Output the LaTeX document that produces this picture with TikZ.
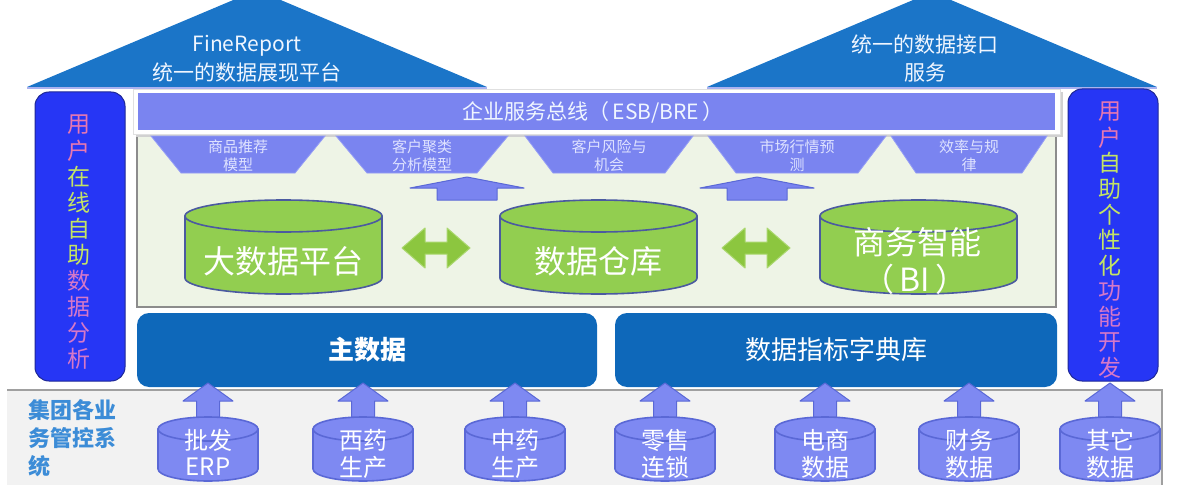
\documentclass[tikz,border=0pt]{standalone}
\usepackage{fontspec}
\setmainfont{Noto Sans CJK SC}
\definecolor{roofblue}{RGB}{27,117,200}
\definecolor{lavline}{RGB}{170,178,240}
\definecolor{esbpurple}{RGB}{122,132,240}
\definecolor{trapfill}{RGB}{122,132,240}
\definecolor{trapedge}{RGB}{150,158,245}
\definecolor{traptxt}{RGB}{222,226,255}
\definecolor{sideblue}{RGB}{38,54,245}
\definecolor{sideedge}{RGB}{30,40,150}
\definecolor{barblue}{RGB}{14,104,186}
\definecolor{panelgreen}{RGB}{238,244,230}
\definecolor{panelborder}{RGB}{140,140,140}
\definecolor{cylgreen}{RGB}{146,206,80}
\definecolor{cyledge}{RGB}{75,90,160}
\definecolor{dblgreen}{RGB}{140,198,63}
\definecolor{dbledge}{RGB}{170,215,110}
\definecolor{botfill}{RGB}{126,137,242}
\definecolor{botedge}{RGB}{90,104,214}
\definecolor{grouptxt}{RGB}{60,140,215}
\definecolor{bandgray}{RGB}{242,242,242}
\definecolor{bandedge}{RGB}{160,160,160}
\definecolor{pk}{RGB}{232,120,176}
\definecolor{yg}{RGB}{196,228,100}
\definecolor{pv}{RGB}{214,120,200}
\definecolor{whitish}{RGB}{240,246,255}
% cylinder: cx, rx, ytop, ybottom, ry, fill, edge
\newcommand{\mycyl}[7]{%
  \filldraw[fill=#6, draw=#7, line width=1.6pt, line join=round]
    (#1-#2,#3+#5) -- (#1-#2,#4-#5)
    arc[start angle=180, end angle=0, x radius=#2, y radius=#5]
    -- (#1+#2,#3+#5) -- cycle;
  \filldraw[fill=#6, draw=#7, line width=1.6pt] (#1,#3+#5) ellipse [x radius=#2, y radius=#5];
}
% up block arrow: cx, ytip, ybase, ybottom, headhalf, shafthalf, style
\newcommand{\myuparrow}[7]{%
  \filldraw[#7] (#1,#2) -- (#1+#5,#3) -- (#1+#6,#3) -- (#1+#6,#4)
    -- (#1-#6,#4) -- (#1-#6,#3) -- (#1-#5,#3) -- cycle;
}
% double green arrow: cx, cy
\newcommand{\mydblarrow}[2]{%
  \filldraw[fill=dblgreen, draw=dbledge, line width=1pt, line join=round]
    (#1-34,#2) -- (#1-11,#2-20) -- (#1-11,#2-6) -- (#1+11,#2-6) -- (#1+11,#2-20)
    -- (#1+34,#2) -- (#1+11,#2+20) -- (#1+11,#2+6) -- (#1-11,#2+6) -- (#1-11,#2+20) -- cycle;
}
% trapezoid: cx, tophalf, bottomhalf
\newcommand{\mytrap}[3]{%
  \filldraw[fill=trapfill, draw=trapedge, line width=0.8pt]
    (#1-#2,136) -- (#1+#2,136) -- (#1+#3,173) -- (#1-#3,173) -- cycle;
}
\tikzset{
  rooftext/.style={text=whitish, font=\fontsize{21}{24}\selectfont},
  esbtext/.style={text=whitish, font=\fontsize{21}{24}\selectfont},
  traptext/.style={text=traptxt, font=\fontsize{15}{17}\selectfont},
  cyltext/.style={text=white, font=\fontsize{32}{36}\selectfont},
  bartext/.style={text=white, font=\fontsize{26}{30}\selectfont},
  bottext/.style={text=white, font=\fontsize{24}{27}\selectfont},
  grptext/.style={text=grouptxt, font=\fontsize{22}{26}\selectfont\bfseries, anchor=west},
  sidetext/.style={font=\fontsize{23}{26}\selectfont},
  toparrow/.style={fill=trapfill, draw=botedge, line width=1pt, line join=round},
  botarrow/.style={fill=botfill, draw=botedge, line width=1pt, line join=round}
}
\begin{document}
\begin{tikzpicture}[x=1pt,y=-1pt, inner sep=0pt, outer sep=0pt]
\useasboundingbox (0,0) rectangle (1179,495);
\clip (0,0) rectangle (1179,495);

% roofs
\fill[roofblue] (27,87) -- (257,-10) -- (487,87) -- cycle;
\fill[roofblue] (707,87) -- (932,-8) -- (1157,87) -- cycle;
\draw[lavline, line width=2pt] (27,88) -- (487,88) (707,88) -- (1157,88);
\node[rooftext] (fr1) at (247,46) {FineReport};
\node[rooftext] (fr2) at (247,73) {统一的数据展现平台};
\node[rooftext] (if1) at (925,45) {统一的数据接口};
\node[rooftext] (if2) at (925,73) {服务};

% green panel
\filldraw[fill=panelgreen, draw=panelborder, line width=1.2pt] (137,120) rectangle (1056,307);

% ESB bar
\fill[black!18] (136,92) rectangle (1063,137);
\filldraw[fill=white, draw=black!12] (133,89) rectangle (1060,134);
\fill[esbpurple] (138,93) rectangle (1055,130);
\node[esbtext] (esb) at (593,112) {企业服务总线（\,ESB/BRE\,）};

% trapezoids
\mytrap{238}{87}{57}
\mytrap{422}{86}{55}
\mytrap{609}{84}{56}
\mytrap{797}{89}{61}
\mytrap{969}{78}{53}
\node[traptext] (t1a) at (238,147) {商品推荐};
\node[traptext] (t1b) at (238,165) {模型};
\node[traptext] (t2a) at (422,147) {客户聚类};
\node[traptext] (t2b) at (422,165) {分析模型};
\node[traptext] (t3a) at (609,147) {客户风险与};
\node[traptext] (t3b) at (609,165) {机会};
\node[traptext] (t4a) at (797,147) {市场行情预};
\node[traptext] (t4b) at (797,165) {测};
\node[traptext] (t5a) at (969,147) {效率与规};
\node[traptext] (t5b) at (969,165) {律};

% top arrows
\myuparrow{467}{177}{188}{200}{57}{30}{toparrow}
\myuparrow{757}{177}{188}{200}{57}{30}{toparrow}

% green cylinders
\mycyl{283.5}{98.5}{200}{294}{16}{cylgreen}{cyledge}
\mycyl{598.5}{98.5}{200}{294}{16}{cylgreen}{cyledge}
\mycyl{918.5}{98.5}{200}{294}{16}{cylgreen}{cyledge}
\node[cyltext] (bigdata) at (283.5,261) {大数据平台};
\node[cyltext] (dw) at (598.5,261) {数据仓库};
\node[cyltext] (bi1) at (917,242) {商务智能};
\node[cyltext] (bi2) at (915,279) {（\,BI\,）};

% double arrows
\mydblarrow{436}{248}
\mydblarrow{756}{248}

% side bars
\filldraw[fill=sideblue, draw=sideedge, line width=1pt, rounded corners=14pt] (35,92) rectangle (125,381);
\filldraw[fill=sideblue, draw=sideedge, line width=1pt, rounded corners=14pt] (1068,89) rectangle (1158,381);
\foreach \c/\col [count=\i from 0] in {用/pk,户/pk,在/yg,线/yg,自/yg,助/yg,数/pv,据/pv,分/pv,析/pv}
  \node[sidetext, text=\col] (L\i) at (79,125+26*\i) {\c};
\foreach \c/\col [count=\i from 0] in {用/pk,户/pk,自/yg,助/yg,个/yg,性/yg,化/yg,功/pv,能/pv,开/pv,发/pv}
  \node[sidetext, text=\col] (R\i) at (1110,112+25.6*\i) {\c};

% blue bars
\fill[barblue, rounded corners=12pt] (137,313) rectangle (597,387);
\fill[barblue, rounded corners=12pt] (615,313) rectangle (1057,387);
\node[bartext, font=\fontsize{26}{30}\selectfont\bfseries] (master) at (367,350) {主数据};
\node[bartext] (dict) at (836,350) {数据指标字典库};

% bottom band
\fill[bandgray] (7,390) rectangle (1162,485);
\draw[bandedge, line width=1.5pt] (7,390) -- (1162,390) -- (1162,485);
\node[grptext] (g1) at (28,410) {集团各业};
\node[grptext] (g2) at (28,438) {务管控系};
\node[grptext] (g3) at (28,466) {统};

% bottom arrows and cylinders
\foreach \cx/\ta/\tb [count=\i] in {208/批发/ERP,363/西药/生产,515/中药/生产,665/零售/连锁,825/电商/数据,969/财务/数据,1110/其它/数据}{
  \myuparrow{\cx}{383}{401}{418}{25}{11.5}{botarrow}
  \mycyl{\cx}{50}{417}{481}{12}{botfill}{botedge}
  \node[bottext] (s\i a) at (\cx,440) {\ta};
  \node[bottext] (s\i b) at (\cx,467) {\tb};
}
\end{tikzpicture}
\end{document}
